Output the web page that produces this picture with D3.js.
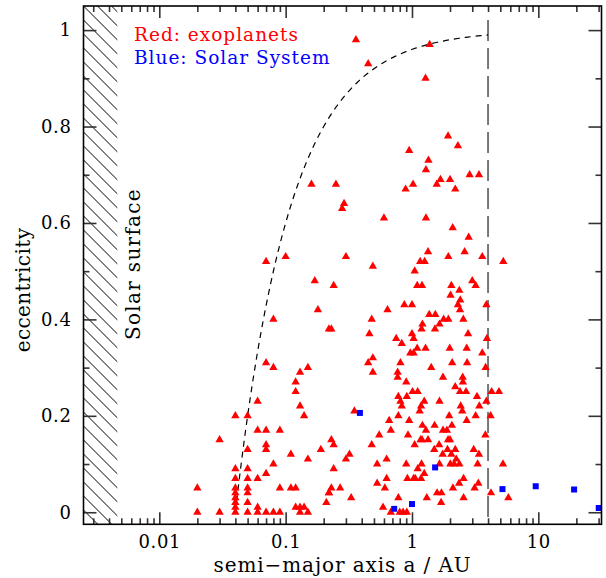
<!DOCTYPE html>
<html>
<head>
<meta charset="utf-8">
<script src="https://cdn.jsdelivr.net/npm/d3@7"></script>
<style>
  body { margin: 0; background: #fff; }
  svg text { font-family: "DejaVu Serif", serif; }
</style>
</head>
<body>
<div id="chart"></div>
<script>
// exoplanets: semi-major axis (AU) and eccentricity
var exoA = [
  0.12,0.12,0.06,0.13,0.04,0.05,0.14,0.06,0.07,0.09,0.03,0.07,0.07,0.05,
  0.11,0.19,0.15,0.08,0.04,0.05,0.07,0.04,0.05,0.06,0.02,0.04,0.05,0.09,
  0.11,0.12,0.22,0.04,0.05,0.04,0.21,0.05,0.04,0.06,0.04,0.12,0.13,0.14,
  0.02,0.03,0.04,0.05,0.06,0.07,0.08,0.09,0.13,0.15,
  0.07,0.10,0.08,0.07,0.08,0.13,0.15,
  0.36,1.38,0.45,1.28,
  1.93,2.31,0.95,1.35,1.29,0.16,0.25,0.89,1.02,1.57,1.68,2.0,2.2,2.86,3.39,
  0.29,0.28,0.60,1.29,2.10,2.81,0.30,0.49,1.34,1.16,1.26,1.94,2.61,3.60,1.05,
  0.17,0.24,1.10,1.20,2.05,3.0,3.19,2.02,2.37,
  2.41,2.31,1.0,0.87,0.18,0.64,3.88,2.4,1.37,1.53,0.48,1.78,1.94,2.55,1.21,1.65,
  0.22,0.23,1.19,1.52,0.46,1.0,2.78,0.75,1.03,3.92,0.83,0.97,1.03,1.10,1.28,1.99,
  2.71,3.6,0.49,0.45,0.81,2.08,2.73,0.49,1.42,3.83,0.77,0.77,1.76,2.52,2.53,0.90,
  2.20,1.01,1.11,2.40,2.68,4.27,4.88,3.27,0.78,0.91,3.88,0.81,0.83,1.25,1.18,1.15,
  1.65,2.43,3.41,2.50,0.35,0.78,0.66,0.95,1.97,3.19,4.19,2.71,1.21,1.51,2.07,1.29,
  1.76,1.89,0.68,0.55,0.93,3.81,0.23,1.17,1.20,1.34,1.93,2.0,0.24,0.48,1.05,1.64,
  1.50,1.91,2.20,3.08,0.32,0.30,1.75,2.05,3.39,2.24,0.53,0.63,0.90,1.19,1.65,2.01,
  2.16,2.37,3.31,0.24,1.11,1.25,0.92,1.03,1.06,1.18,0.63,2.56,0.53,0.61,0.23,0.27,
  0.22,2.11,2.36,3.35,3.13,1.58,1.71,0.33,0.78,1.31,2.56,1.70,0.59,0.68,0.80,0.85,0.91,
  5.25,4.22,5.79,5.28
];
var exoE = [
  0.27,0.25,0.23,0.22,0.20,0.20,0.20,0.17,0.17,0.17,0.15,0.14,0.13,0.13,
  0.12,0.13,0.11,0.10,0.09,0.09,0.08,0.07,0.07,0.07,0.05,0.05,0.05,0.05,
  0.05,0.05,0.04,0.04,0.04,0.03,0.02,0.02,0.02,0.01,0.01,0.01,0.01,0.01,
  0,0,0,0,0,0,0,0,0,0,
  0.52,0.53,0.40,0.31,0.30,0.29,0.30,
  0.98,0.97,0.93,0.90,
  0.78,0.76,0.75,0.73,0.71,0.68,0.68,0.67,0.68,0.68,0.69,0.69,0.67,0.70,0.70,
  0.64,0.63,0.61,0.61,0.59,0.57,0.53,0.51,0.54,0.52,0.52,0.53,0.54,0.53,0.50,
  0.48,0.47,0.47,0.47,0.47,0.48,0.47,0.45,0.46,
  0.44,0.43,0.43,0.43,0.42,0.42,0.43,0.42,0.41,0.41,0.40,0.40,0.40,0.40,0.39,0.39,
  0.38,0.38,0.38,0.38,0.37,0.37,0.37,0.36,0.36,0.36,0.35,0.33,0.33,0.34,0.34,0.34,
  0.34,0.33,0.32,0.31,0.31,0.31,0.31,0.29,0.30,0.30,0.29,0.28,0.28,0.28,0.27,0.27,
  0.26,0.25,0.25,0.25,0.25,0.25,0.25,0.24,0.24,0.24,0.23,0.23,0.22,0.23,0.22,0.21,
  0.23,0.22,0.22,0.21,0.21,0.20,0.19,0.19,0.20,0.20,0.20,0.19,0.18,0.18,0.18,0.17,
  0.17,0.17,0.17,0.16,0.16,0.16,0.15,0.15,0.15,0.15,0.15,0.15,0.14,0.14,0.14,0.14,
  0.13,0.13,0.13,0.13,0.12,0.11,0.12,0.12,0.12,0.11,0.10,0.11,0.10,0.10,0.10,0.10,
  0.10,0.10,0.10,0.09,0.09,0.08,0.07,0.07,0.07,0.07,0.07,0.07,0.06,0.05,0.05,0.05,
  0.04,0.05,0.06,0.06,0.05,0.04,0.04,0.03,0.03,0.03,0.03,0.02,0.01,0,0,0,0,
  0.10,0.04,0.03,0.52
];

// solar system planets
var solA = [0.387, 0.723, 1.0, 1.524, 5.203, 9.537, 19.19, 30.07];
var solE = [0.206, 0.007, 0.017, 0.093, 0.048, 0.054, 0.047, 0.009];

var solarRadiusAU = 0.00465;   // hatched region edge
var periastronAU = 0.04;       // dashed curve a(1-e) = const
var vlineAU = 4;

var xMajor = [0.01, 0.1, 1, 10];
var xMinor = [];
[0.001, 0.01, 0.1, 1, 10].forEach(function(d) {
  for (var k = 2; k <= 9; k++) xMinor.push(d * k);
});
var yMajor = [0, 0.2, 0.4, 0.6, 0.8, 1];
var yMinor = [0.1, 0.3, 0.5, 0.7, 0.9];

var width = 606, height = 578;
var plotL = 83.5, plotR = 601.5, plotT = 6, plotB = 524.3;

var x = d3.scaleLog().domain([Math.pow(10, -2.6), Math.pow(10, 1.5)]).range([plotL, plotR]);
var y = d3.scaleLinear().domain([-0.025, 1.05]).range([plotB, plotT]);

var svg = d3.select("#chart").append("svg")
    .attr("width", width).attr("height", height);

svg.append("clipPath").attr("id", "plotclip")
  .append("rect").attr("x", plotL).attr("y", plotT)
    .attr("width", plotR - plotL).attr("height", plotB - plotT);

// hatched solar surface
var hatchW = x(solarRadiusAU) - plotL;
svg.append("clipPath").attr("id", "hatchclip")
  .append("rect").attr("x", plotL).attr("y", plotT)
    .attr("width", hatchW).attr("height", plotB - plotT);
var hatch = svg.append("g").attr("clip-path", "url(#hatchclip)");
hatch.selectAll("line")
    .data(d3.range(-5, 45))
  .enter().append("line")
    .attr("x1", plotL).attr("y1", function(k) { return plotT + k * 14; })
    .attr("x2", plotL + 60).attr("y2", function(k) { return plotT + k * 14 + 60; })
    .attr("stroke", "#000").attr("stroke-width", 1);

svg.append("text")
    .attr("transform", "translate(140," + 264 + ") rotate(-90)")
    .attr("text-anchor", "middle")
    .style("font-size", "20px")
    .style("letter-spacing", "1.3px")
    .text("Solar surface");

var plot = svg.append("g").attr("clip-path", "url(#plotclip)");

// vertical dashed line
plot.append("line")
    .attr("x1", x(vlineAU)).attr("x2", x(vlineAU))
    .attr("y1", 20).attr("y2", plotB)
    .attr("stroke", "#777").attr("stroke-width", 2)
    .attr("stroke-dasharray", "21,7");

// dashed curve e = 1 - q/a
var curveA = d3.range(0, 101).map(function(i) {
  return periastronAU * Math.pow(vlineAU / periastronAU, i / 100);
});
plot.append("path")
    .datum(curveA)
    .attr("fill", "none").attr("stroke", "#000").attr("stroke-width", 1.2)
    .attr("stroke-dasharray", "6,5")
    .attr("d", d3.line()
      .x(function(a) { return x(a); })
      .y(function(a) { return y(1 - periastronAU / a); }));

// exoplanets
plot.selectAll("path.exo")
    .data(exoA.map(function(a, i) { return [a, exoE[i]]; }))
  .enter().append("path")
    .attr("class", "exo")
    .attr("d", d3.symbol().type(d3.symbolTriangle).size(30))
    .attr("transform", function(d) { return "translate(" + x(d[0]) + "," + y(d[1]) + ")"; })
    .attr("fill", "#ff0000");

// solar system
plot.selectAll("path.sol")
    .data(solA.map(function(a, i) { return [a, solE[i]]; }))
  .enter().append("path")
    .attr("class", "sol")
    .attr("d", d3.symbol().type(d3.symbolSquare).size(36))
    .attr("transform", function(d) { return "translate(" + x(d[0]) + "," + y(d[1]) + ")"; })
    .attr("fill", "#0000ff");

// axes, ticks pointing inward
function styleAxis(g) {
  g.select(".domain").remove();
  g.selectAll(".tick line").attr("stroke", "#333").attr("stroke-width", 1.6);
  g.selectAll(".tick text").style("font-size", "18px").style("letter-spacing", "0.6px")
    .style("font-family", "DejaVu Serif, serif").attr("fill", "#000");
}
var xMinorIn = xMinor.filter(function(d) { return x(d) > plotL && x(d) < plotR; });

svg.append("g").attr("transform", "translate(0," + plotB + ")")
    .call(d3.axisBottom(x).tickValues(xMajor).tickSizeInner(-12).tickSizeOuter(0).tickPadding(11)
      .tickFormat(function(d) { return d3.format("~g")(d); }))
    .call(styleAxis);
svg.append("g").attr("transform", "translate(0," + plotB + ")")
    .call(d3.axisBottom(x).tickValues(xMinorIn).tickSizeInner(-6).tickSizeOuter(0).tickFormat(""))
    .call(styleAxis);
svg.append("g").attr("transform", "translate(0," + plotT + ")")
    .call(d3.axisTop(x).tickValues(xMajor).tickSizeInner(-12).tickSizeOuter(0).tickFormat(""))
    .call(styleAxis);
svg.append("g").attr("transform", "translate(0," + plotT + ")")
    .call(d3.axisTop(x).tickValues(xMinorIn).tickSizeInner(-6).tickSizeOuter(0).tickFormat(""))
    .call(styleAxis);

svg.append("g").attr("transform", "translate(" + plotL + ",0)")
    .call(d3.axisLeft(y).tickValues(yMajor).tickSizeInner(-13).tickSizeOuter(0).tickPadding(12)
      .tickFormat(d3.format("~g")))
    .call(styleAxis);
svg.append("g").attr("transform", "translate(" + plotL + ",0)")
    .call(d3.axisLeft(y).tickValues(yMinor).tickSizeInner(-6).tickSizeOuter(0).tickFormat(""))
    .call(styleAxis);
svg.append("g").attr("transform", "translate(" + plotR + ",0)")
    .call(d3.axisRight(y).tickValues(yMajor).tickSizeInner(-13).tickSizeOuter(0).tickFormat(""))
    .call(styleAxis);
svg.append("g").attr("transform", "translate(" + plotR + ",0)")
    .call(d3.axisRight(y).tickValues(yMinor).tickSizeInner(-6).tickSizeOuter(0).tickFormat(""))
    .call(styleAxis);

// frame
svg.append("rect")
    .attr("x", plotL).attr("y", plotT)
    .attr("width", plotR - plotL).attr("height", plotB - plotT)
    .attr("fill", "none").attr("stroke", "#000").attr("stroke-width", 1.6);

// axis labels
svg.append("text")
    .attr("x", (plotL + plotR) / 2).attr("y", 572)
    .attr("text-anchor", "middle")
    .style("font-size", "20px")
    .style("letter-spacing", "0.9px")
    .text("semi\u2212major axis a / AU");
svg.append("text")
    .attr("transform", "translate(30,290) rotate(-90)")
    .attr("text-anchor", "middle")
    .style("font-size", "20px")
    .style("letter-spacing", "0.4px")
    .text("eccentricity");

// legend
svg.append("text").attr("x", 134).attr("y", 41)
    .style("font-size", "18.5px").style("letter-spacing", "1px").attr("fill", "#ff0000")
    .text("Red: exoplanets");
svg.append("text").attr("x", 134).attr("y", 64)
    .style("font-size", "18.5px").style("letter-spacing", "1px").attr("fill", "#0000ff")
    .text("Blue: Solar System");
</script>
</body>
</html>
